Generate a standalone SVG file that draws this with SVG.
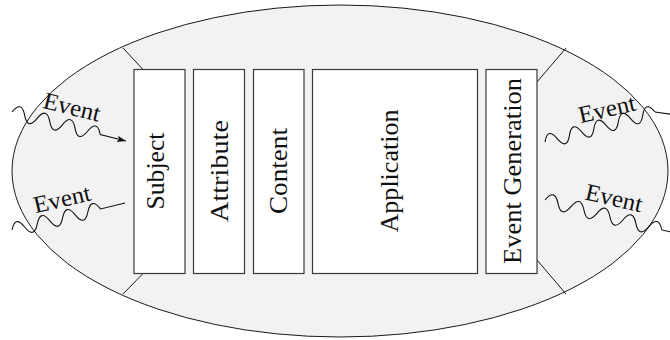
<svg xmlns="http://www.w3.org/2000/svg" width="670" height="340" viewBox="0 0 670 340">
  <style>
    .shell { fill: #f2f2f2; stroke: #1a1a1a; stroke-width: 1; }
    .box { fill: #ffffff; stroke: #3a3a3a; stroke-width: 1.2; }
    .lbl { font-family: "Liberation Serif", "Times New Roman", serif; font-size: 25px; fill: #111; text-anchor: middle; }
    .ev { font-family: "Liberation Serif", "Times New Roman", serif; font-size: 24px; fill: #111; text-anchor: middle; }
    .edge { fill: none; stroke: #1a1a1a; stroke-width: 1; }
    .wave { fill: none; stroke: #111; stroke-width: 1.1; }
  </style>
  <defs>
    <marker id="head" markerUnits="userSpaceOnUse" markerWidth="10" markerHeight="8" refX="9" refY="4" orient="auto">
      <path d="M0,0.8 L9,4 L0,7.2 L2,4 z" fill="#111"/>
    </marker>
  </defs>

  <!-- outer shell -->
  <g id="shell">
    <ellipse class="shell" cx="340" cy="171" rx="328" ry="166"/>
    <line class="edge" x1="123" y1="48" x2="143" y2="69.5"/>
    <line class="edge" x1="123" y1="294" x2="143" y2="273.5"/>
    <line class="edge" x1="566" y1="48" x2="537" y2="82"/>
    <line class="edge" x1="566" y1="294" x2="537" y2="260"/>
  </g>

  <!-- stacked layers -->
  <g id="subject">
    <rect class="box" x="134" y="69.5" width="51" height="204"/>
    <text class="lbl" transform="translate(164,171) rotate(-90)" textLength="77" lengthAdjust="spacingAndGlyphs">Subject</text>
  </g>
  <g id="attribute">
    <rect class="box" x="193.5" y="69.5" width="51" height="204"/>
    <text class="lbl" transform="translate(228,171) rotate(-90)" textLength="102" lengthAdjust="spacingAndGlyphs">Attribute</text>
  </g>
  <g id="content">
    <rect class="box" x="253.5" y="69.5" width="50.5" height="204"/>
    <text class="lbl" transform="translate(287,171) rotate(-90)" textLength="86" lengthAdjust="spacingAndGlyphs">Content</text>
  </g>
  <g id="application">
    <rect class="box" x="312.5" y="69.5" width="165" height="204"/>
    <text class="lbl" transform="translate(398,171) rotate(-90)" textLength="123" lengthAdjust="spacingAndGlyphs">Application</text>
  </g>
  <g id="event-generation">
    <rect class="box" x="486" y="69.5" width="51" height="204"/>
    <text class="lbl" transform="translate(521,171) rotate(-90)" textLength="186" lengthAdjust="spacingAndGlyphs">Event Generation</text>
  </g>

  <!-- incoming and outgoing events -->
  <g id="connectors">
    <g transform="translate(12,112) rotate(14.3)">
      <path class="wave" marker-end="url(#head)" d="M0,0 q6.5,-14 13,0 t13,0 t13,0 t13,0 t13,0 t13,0 t13,0 l26.6,0"/>
    </g>
    <g transform="translate(12,230) rotate(-13.4)">
      <path class="wave" d="M0,0 q6.5,-14 13,0 t13,0 t13,0 t13,0 t13,0 t13,0 t13,0 l25.2,0"/>
    </g>
    <g transform="translate(545,142) rotate(-15.3)">
      <path class="wave" d="M0,0 q6.33,-14 12.67,0 t12.67,0 t12.67,0 t12.67,0 t12.67,0 t12.67,0 t12.67,0 t12.67,0 t12.67,0"/>
    </g>
    <path class="wave" marker-end="url(#head)" d="M655,112 L690,117"/>
    <g transform="translate(545,200) rotate(14.4)">
      <path class="wave" d="M0,0 q6.7,-14 13.4,0 t13.4,0 t13.4,0 t13.4,0 t13.4,0 t13.4,0 t13.4,0 t13.4,0 t13.4,0"/>
    </g>
    <path class="wave" marker-end="url(#head)" d="M662,230 L690,236"/>

    <text class="ev" transform="translate(72,107) rotate(14)" y="8" textLength="58" lengthAdjust="spacingAndGlyphs">Event</text>
    <text class="ev" transform="translate(62,199) rotate(-13)" y="8" textLength="58" lengthAdjust="spacingAndGlyphs">Event</text>
    <text class="ev" transform="translate(607,109) rotate(-13)" y="8" textLength="58" lengthAdjust="spacingAndGlyphs">Event</text>
    <text class="ev" transform="translate(614,198) rotate(13)" y="8" textLength="58" lengthAdjust="spacingAndGlyphs">Event</text>
  </g>
</svg>
